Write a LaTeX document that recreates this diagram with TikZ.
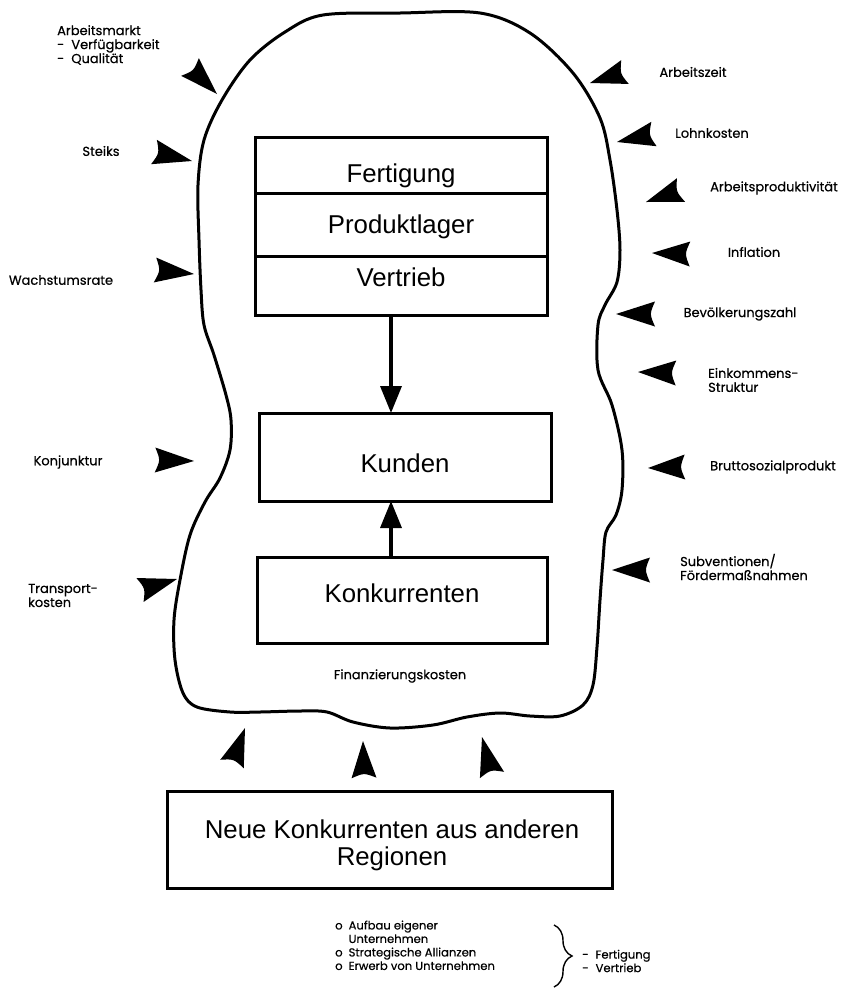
\documentclass[tikz,border=0pt]{standalone}
\usepackage{fontspec}
\setmainfont{Liberation Sans}
\newfontfamily\lblfont[FakeBold=0.5]{Poppins}
\usetikzlibrary{calc,arrows.meta,decorations.pathreplacing}

% solid wedge pointing from base centre #2 towards tip #1, slightly hollow back edge
\newcommand\wedgehead[2]{%
  \fill ($(#2)!12.5pt!90:(#1)$) -- (#1) -- ($(#2)!12.5pt!-90:(#1)$)
    .. controls ($(#2)!0.14!(#1)$) .. ($(#2)!12.5pt!90:(#1)$) -- cycle;}

\tikzset{
  cell/.style={draw=black, line width=3pt, inner sep=0pt, outer sep=0pt},
  boxtext/.style={font=\fontsize{25.8}{28}\selectfont, inner sep=0pt, anchor=base},
  lbl/.style={font=\lblfont\fontsize{13}{14}\selectfont, inner sep=0pt, align=left},
  listtext/.style={font=\lblfont\fontsize{11.6}{13.5}\selectfont, inner sep=0pt, align=left, anchor=west},
  conn/.style={line width=3.5pt, -{Triangle[length=27pt,width=21pt]}},
  blob/.style={line width=3pt, line join=round}
}

\begin{document}
\begin{tikzpicture}[x=1pt,y=-1pt]
\useasboundingbox (0,0) rectangle (842,989);

% environment outline
\draw[blob] plot[smooth cycle, tension=0.55] coordinates {
  (323,15) (400,13) (480,13) (530,33) (573,73) (600,118) (610,160) (617,210)
  (620,250) (617,282) (605,305) (598,325) (598,370) (612,405) (622,450)
  (622,490) (616,515) (606,532) (603,560) (600,600) (597,647) (593,685)
  (583,705) (560,716) (530,716) (500,713) (467,717) (433,725) (390,728)
  (353,722) (327,712) (300,711) (260,712) (230,712) (197,707) (183,693)
  (175,660) (174,620) (180,580) (190,535) (205,502) (220,478) (230,450)
  (231,420) (226,395) (214,355) (204,325) (201,290) (199,240) (198,185)
  (204,140) (222,100) (250,60) (285,32)};

% company block
\node[cell, minimum width=292pt, minimum height=56pt] (fert) at (401,165) {};
\node[cell, minimum width=292pt, minimum height=63pt] (lager) at (401,224.5) {};
\node[cell, minimum width=292pt, minimum height=59pt] (vert) at (401,285.5) {};
\node[boxtext] (tfert) at (401,182) {Fertigung};
\node[boxtext] (tlager) at (401,233) {Produktlager};
\node[boxtext] (tvert) at (401,286) {Vertrieb};

\node[cell, minimum width=292pt, minimum height=88pt] (kunden) at (405,457) {};
\node[boxtext] (tkunden) at (405,472) {Kunden};

\node[cell, minimum width=290pt, minimum height=86pt] (konk) at (402,600) {};
\node[boxtext] (tkonk) at (402,602) {Konkurrenten};

\node[cell, minimum width=445pt, minimum height=97pt] (neue) at (389.5,839.5) {};
\node[boxtext] (tneue1) at (392,838) {Neue Konkurrenten aus anderen};
\node[boxtext] (tneue2) at (392,865) {Regionen};

% flows
\coordinate (axis) at (391,0);
\draw[conn] (vert.south -| axis) -- (kunden.north -| axis);
\draw[conn] (konk.north -| axis) -- (kunden.south -| axis);

% influences, left
\node[lbl, anchor=west] (l1) at (57,45) {Arbeitsmarkt\\-\hspace{7pt}Verfügbarkeit\\-\hspace{7pt}Qualität};
\node[lbl] (l2) at (101,151) {Steiks};
\node[lbl] (l3) at (61,280) {Wachstumsrate};
\node[lbl] (l4) at (68,462) {Konjunktur};
\node[lbl, anchor=west] (l5) at (28,595.5) {Transport-\\kosten};

% influences, right
\node[lbl] (r1) at (693,72) {Arbeitszeit};
\node[lbl] (r2) at (712,133) {Lohnkosten};
\node[lbl] (r3) at (774,188) {Arbeitsproduktivität};
\node[lbl] (r4) at (754,252) {Inflation};
\node[lbl] (r5) at (740,314) {Bevölkerungszahl};
\node[lbl, anchor=west] (r6) at (708,380) {Einkommens-\\Struktur};
\node[lbl] (r7) at (773,467) {Bruttosozialprodukt};
\node[lbl, anchor=west] (r8) at (680,567) {Subventionen/\\Fördermaßnahmen};

\node[lbl] (fin) at (400,676) {Finanzierungskosten};

% wedges on the outline
\wedgehead{217,94}{190,67}
\wedgehead{192,161}{154,152}
\wedgehead{194,274}{155,270}
\wedgehead{194,461}{155,460}
\wedgehead{177,579}{140,590}
\wedgehead{590,83}{625,72}
\wedgehead{617,142}{654,134}
\wedgehead{646,202}{681,190}
\wedgehead{652,253}{690,254}
\wedgehead{616,314}{655,314}
\wedgehead{638,372}{676,373}
\wedgehead{648,468}{685,467}
\wedgehead{612,570}{650,570}
\wedgehead{245,728}{232,764}
\wedgehead{363,741}{364,778}
\wedgehead{482,737}{492,775}

% entry strategies
\node[listtext] (list) at (335,947)
  {\begin{tabular}{@{}l@{\hspace{6pt}}l@{}}
   o & Aufbau eigener\\
     & Unternehmen\\
   o & Strategische Allianzen\\
   o & Erwerb von Unternehmen
   \end{tabular}};
\coordinate (bt) at (554,925);
\coordinate (bb) at (554,987);
\draw[line width=1.4pt, decorate, decoration={brace, amplitude=18pt}] (bt) -- (bb);
\node[listtext] (fv) at (582,961)
  {-\hspace{7pt}Fertigung\\-\hspace{7pt}Vertrieb};
\end{tikzpicture}
\end{document}
